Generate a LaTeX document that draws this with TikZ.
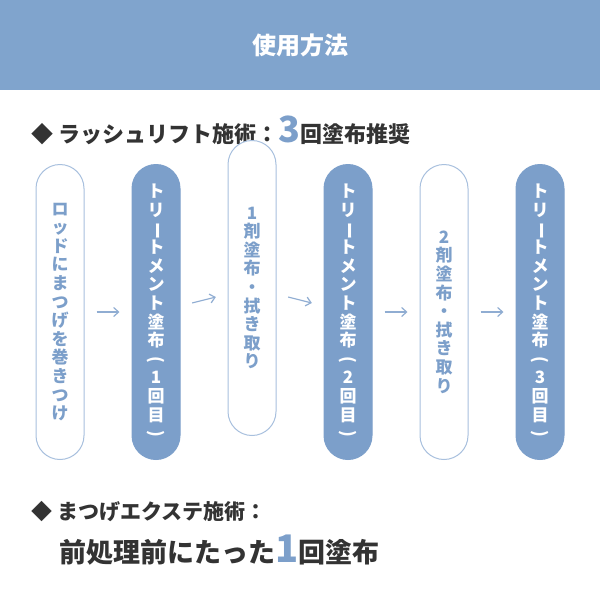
\documentclass[tikz,border=0pt]{standalone}
\usepackage{fontspec}
\setmainfont{Noto Sans CJK JP}
\usetikzlibrary{positioning,arrows.meta}
\definecolor{hdr}{HTML}{80A4CD}
\definecolor{pillblue}{HTML}{7C9FCA}
\definecolor{pilledge}{HTML}{A8C0DE}
\definecolor{txt}{HTML}{333333}
\newcommand{\vbar}{\rotatebox[origin=c]{-90}{ー}}
\newcommand{\vpar}[1]{\rotatebox[origin=c]{-90}{#1}}
\begin{document}
\begin{tikzpicture}[x=1pt, y=-1pt,
  pill/.style={draw=pilledge, line width=1pt, fill=white, rounded corners=24pt,
    minimum width=48pt, minimum height=295pt, inner sep=0pt, align=center,
    text=pillblue, font=\bfseries\fontsize{17}{18.6}\selectfont},
  filled/.style={pill, draw=pillblue, fill=pillblue, text=white},
  flow/.style={-{Straight Barb[length=5pt,width=9pt]}, pillblue!85, line width=1.2pt,
    shorten <=12pt, shorten >=12pt}]
\useasboundingbox (0,0) rectangle (600,600);
\fill[hdr] (0,0) rectangle (600,90);
\node[text=white, font=\bfseries\fontsize{24}{24}\selectfont] (head) at (300,45) {使用方法};
\node[anchor=west, text=txt, font=\bfseries\fontsize{22}{22}\selectfont] (lash) at (28,130)
  {◆ ラッシュリフト施術：{\color{pillblue}\fontsize{36}{36}\selectfont 3}回塗布推奨};

\node[pill]   (s1) at (60,312)  {ロ\\ッ\\ド\\に\\ま\\つ\\げ\\を\\巻\\き\\つ\\け};
\node[filled] (s2) at (156,312) {ト\\リ\\\vbar\\ト\\メ\\ン\\ト\\塗\\布\\\vpar{(}\\1\\回\\目\\\vpar{)}};
\node[pill]   (s3) at (252,300) [minimum height=295pt, yshift=12pt] {1\\剤\\塗\\布\\・\\拭\\き\\取\\り};
\node[filled] (s4) at (348,312) {ト\\リ\\\vbar\\ト\\メ\\ン\\ト\\塗\\布\\\vpar{(}\\2\\回\\目\\\vpar{)}};
\node[pill]   (s5) at (444,312) {2\\剤\\塗\\布\\・\\拭\\き\\取\\り};
\node[filled] (s6) at (540,312) {ト\\リ\\\vbar\\ト\\メ\\ン\\ト\\塗\\布\\\vpar{(}\\3\\回\\目\\\vpar{)}};

\foreach \a/\b in {s1/s2, s2/s3, s3/s4, s4/s5, s5/s6}
  \draw[flow] (\a) -- (\b);

\node[anchor=west, text=txt, font=\bfseries\fontsize{21}{21}\selectfont] (ext) at (28,512)
  {◆ まつげエクステ施術：};
\node[anchor=west, text=txt, font=\bfseries\fontsize{27}{27}\selectfont] (once) at (56,550)
  {前処理前にたった{\color{pillblue}\fontsize{38}{38}\selectfont 1}回塗布};
\end{tikzpicture}
\end{document}
